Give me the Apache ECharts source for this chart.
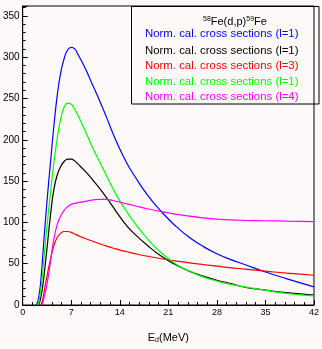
<!DOCTYPE html>
<html>
<head>
<meta charset="utf-8">
<script src="https://cdn.jsdelivr.net/npm/echarts@6/dist/echarts.min.js"></script>
<style>
html,body{margin:0;padding:0;background:#fdf9f9;}
#c{width:322px;height:349px;}
</style>
</head>
<body>
<div id="c"></div>
<script>
// Energy grid (MeV)
var energies = [2.0, 2.2, 2.3, 2.5, 2.6, 2.8, 3.0, 3.5, 4.0, 4.5, 5.0, 5.5, 6.0, 6.5, 7.0, 7.5, 8, 9, 10, 11, 12, 13, 14, 15, 16, 18, 20, 22, 24, 26, 28, 30, 32, 35, 38, 42];
var blueL1 = [0,5,9,20,28,48,72,125,172,217,255,282,299,309,312,310,303,287,268,249,229,208,189,172,158,133,113,96,82,71,62,55,49,40,32,22];
var blackL1 = [null,null,0,5,9,18,30,68,108,140,158,168,174,176.5,176.5,174.5,170.5,162,152.5,142,131,119,107,96,87,72,59,49,41,35,30,26,21.5,18,15,12];
var redL3 = [null,null,null,null,0,4,12,35,55,72,82,87,89,89,88,86,84,80.5,77.5,74.5,71.5,69,66.5,64.5,62.5,59,56,53.5,51,49,47,45,43.5,41,38.5,36];
var greenL1 = [null,0,3,12,18,32,50,95,135,172,203,226,240,244.5,243,237,229,211,192,175,158,141,126,113,101,80,63,50,41,34,29,25,22,18,14,11];
var magentaL4 = [null,null,null,null,null,0,6,25,52,80,98,108,115,119,122,123,124,125.5,127,128,128,126.5,124.5,122.5,120.5,116.5,113,110,107.5,105.5,104,103,102.5,102,101.5,101];

var seriesNames = ['Norm. cal. cross sections (l=1)','Norm. cal. cross sections (l=1)','Norm. cal. cross sections (l=3)','Norm. cal. cross sections (l=1)','Norm. cal. cross sections (l=4)'];
var seriesColors = ['#0000ff','#000000','#ff0000','#00ff00','#ff00ff'];
var seriesValues = [blueL1, blackL1, redL3, greenL1, magentaL4];

var xTicks = {min:0, max:42, interval:7};
var yTicks = {min:0, max:362, interval:50};

var FONT = 'Liberation Sans, Arial, sans-serif';

function pairs(vals){
  var out = [];
  for (var i=0;i<energies.length;i++){
    out.push([energies[i], vals[i]]);
  }
  return out;
}

var series = seriesValues.map(function(v,i){
  return {
    type:'line', name: seriesNames[i] + '#' + i, data: pairs(v),
    showSymbol:false, smooth:0.5, connectNulls:false,
    lineStyle:{color:seriesColors[i], width:1.2}, itemStyle:{color:seriesColors[i]},
    silent:true, animation:false
  };
});

var legendX = 145, legendY = [34, 50.5, 66, 81.5, 97];
var graphics = [{
  type:'rect', shape:{x:131.5, y:6.5, width:187.5, height:97.5},
  style:{fill:'none', stroke:'#000', lineWidth:1}, silent:true
}];
seriesNames.forEach(function(n,i){
  graphics.push({type:'text', x:legendX, y:legendY[i], silent:true,
    style:{text:n, fill:seriesColors[i], font:'11.4px ' + FONT, verticalAlign:'middle', align:'left'}});
});

var chart = echarts.init(document.getElementById('c'), null, {renderer:'canvas'});
chart.setOption({
  animation:false,
  backgroundColor:'#fdf9f9',
  title:{
    text:'{s|58}{t|Fe(d,p)}{s|59}{t|Fe}',
    left:198, top:11,
    textStyle:{fontWeight:'normal', rich:{
      s:{fontSize:7, fontFamily:FONT, fontWeight:'normal', color:'#000', verticalAlign:'top', padding:[0,0,5,0]},
      t:{fontSize:11, fontFamily:FONT, fontWeight:'normal', color:'#000'}
    }}
  },
  grid:{left:16, right:3, top:6, bottom:33, show:true, borderColor:'#000', borderWidth:1, backgroundColor:'transparent'},
  xAxis:{
    type:'value', min:xTicks.min, max:xTicks.max, interval:xTicks.interval,
    name:'{e|E}{d|d}{e|(MeV)}', nameLocation:'middle', nameGap:26,
    nameTextStyle:{rich:{e:{fontSize:11, fontFamily:FONT, color:'#000'}, d:{fontSize:7, fontFamily:FONT, color:'#000', padding:[6,0,0,0]}}},
    axisLine:{lineStyle:{color:'#000', width:1}},
    axisTick:{inside:true, length:5, lineStyle:{color:'#000'}},
    minorTick:{show:true, splitNumber:5, length:3, lineStyle:{color:'#000'}},
    axisLabel:{fontSize:9, fontFamily:FONT, color:'#000', margin:3},
    splitLine:{show:false}
  },
  yAxis:{
    type:'value', min:yTicks.min, max:yTicks.max, interval:yTicks.interval,
    axisLine:{show:true, lineStyle:{color:'#000', width:1}},
    axisTick:{show:true, inside:true, length:5, lineStyle:{color:'#000'}},
    minorTick:{show:true, splitNumber:5, length:3, lineStyle:{color:'#000'}},
    axisLabel:{fontSize:10, fontFamily:FONT, color:'#000', margin:3, showMaxLabel:false},
    splitLine:{show:false}
  },
  series: series,
  graphic: graphics
});
</script>
</body>
</html>
